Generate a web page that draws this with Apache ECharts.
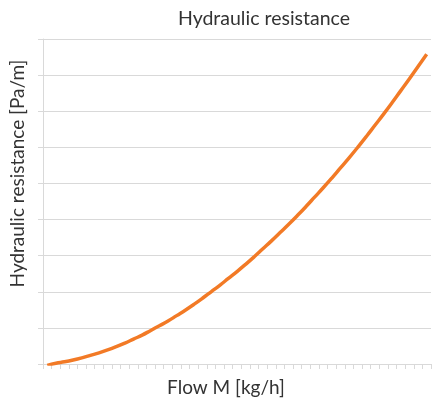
<!DOCTYPE html>
<html>
<head>
<meta charset="utf-8">
<style>
  html, body { margin: 0; padding: 0; background: #ffffff; }
  #chart { width: 438px; height: 403px; }
</style>
<script src="https://cdn.jsdelivr.net/npm/echarts@6/dist/echarts.min.js"></script>
</head>
<body>
<div id="chart"></div>
<script>
// Flow steps along the horizontal axis (labels are not printed)
const flowSteps = [
  1, 2, 3, 4, 5, 6, 7, 8, 9, 10, 11, 12, 13, 14, 15,
  16, 17, 18, 19, 20, 21, 22, 23, 24, 25, 26, 27, 28, 29, 30,
  31, 32, 33, 34, 35, 36, 37, 38, 39, 40, 41, 42, 43, 44, 45
];

// Hydraulic resistance for each flow step (axis units, one per gridline)
const resistance = [
  -0.04, 0.02, 0.06, 0.11, 0.17, 0.24, 0.31, 0.39, 0.48, 0.58,
  0.69, 0.80, 0.93, 1.06, 1.19, 1.34, 1.49, 1.65, 1.82, 2.00,
  2.18, 2.37, 2.56, 2.76, 2.97, 3.19, 3.41, 3.64, 3.87, 4.11,
  4.36, 4.62, 4.88, 5.15, 5.43, 5.71, 6.00, 6.30, 6.61, 6.92,
  7.24, 7.57, 7.90, 8.24, 8.58
];

const chartTitle = 'Hydraulic resistance';
const xName = 'Flow M [kg/h]';
const yName = 'Hydraulic resistance [Pa/m]';

const gridColor = '#d9d9d9';
const textColor = '#333333';
const fontFamily = 'Lato, "Open Sans", sans-serif';
const fontSize = 19;

const chart = echarts.init(document.getElementById('chart'), null, { renderer: 'canvas' });

chart.setOption({
  animation: false,
  backgroundColor: '#ffffff',
  title: {
    text: chartTitle,
    left: 259,
    top: 4,
    textAlign: 'center',
    textStyle: { color: textColor, fontSize: 19.5, fontWeight: 'normal', fontFamily: fontFamily }
  },
  grid: { left: 43, right: 7, top: 39, bottom: 39, containLabel: false },
  xAxis: {
    type: 'category',
    data: flowSteps,
    boundaryGap: true,
    name: xName,
    nameLocation: 'middle',
    nameGap: 14,
    nameTextStyle: { color: textColor, fontSize: fontSize, fontFamily: fontFamily, padding: [0, 22, 0, 0] },
    axisLine: { show: true, lineStyle: { color: gridColor, width: 1 } },
    axisTick: { show: true, length: 5, interval: 0, lineStyle: { color: gridColor } },
    axisLabel: { show: false },
    splitLine: { show: false }
  },
  yAxis: {
    type: 'value',
    min: 0,
    max: 9,
    interval: 1,
    name: yName,
    nameLocation: 'middle',
    nameGap: 16,
    nameRotate: 90,
    nameTextStyle: { color: textColor, fontSize: fontSize, fontFamily: fontFamily, padding: [0, 0, 0, 56] },
    axisLine: { show: true, lineStyle: { color: gridColor, width: 1 } },
    axisTick: { show: true, length: 5, lineStyle: { color: gridColor } },
    axisLabel: { show: false },
    splitLine: { show: true, lineStyle: { color: gridColor, width: 1 } }
  },
  series: [{
    type: 'line',
    data: resistance,
    smooth: true,
    showSymbol: false,
    lineStyle: { color: '#f27a26', width: 3.5 },
    itemStyle: { color: '#f27a26' }
  }]
});
</script>
</body>
</html>
